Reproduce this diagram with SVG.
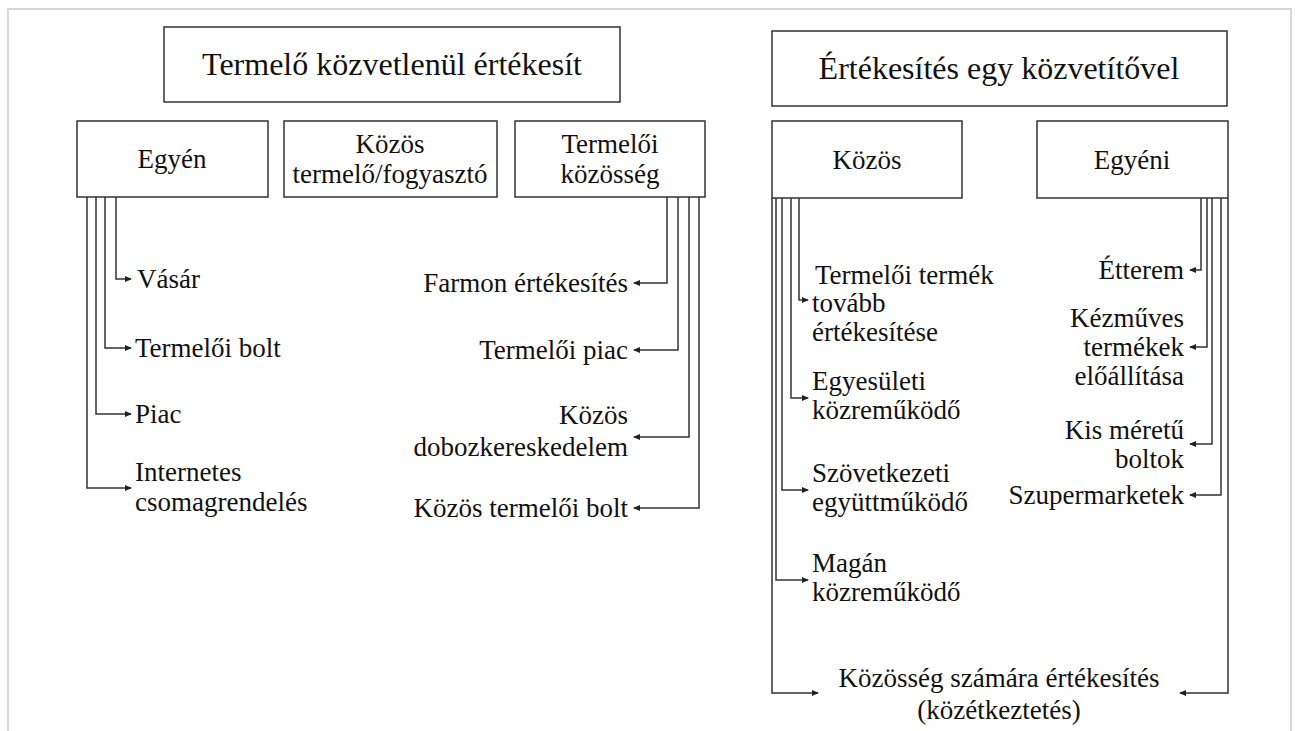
<svg xmlns="http://www.w3.org/2000/svg" width="1295" height="731" viewBox="0 0 1295 731">
<style>
text{font-family:"Liberation Serif","Tinos","DejaVu Serif","Noto Serif",serif;font-size:27px;fill:#111}
.title{font-size:32px}
.box{fill:#fff;stroke:#333;stroke-width:1.5}
.c{fill:none;stroke:#333;stroke-width:1.5}
.frame{stroke:#d6d6d6;stroke-width:2;fill:none}
.m{text-anchor:middle}
.e{text-anchor:end}
</style>
<defs>
<marker id="ah" markerWidth="7" markerHeight="6" refX="6" refY="3" orient="auto" markerUnits="userSpaceOnUse">
<path d="M0,0 L7,3 L0,6 Z" fill="#222"/>
</marker>
</defs>
<rect width="1295" height="731" fill="#fff"/>
<path class="frame" d="M8,731 V9 H1291 V731"/>

<g font-family="Liberation Serif, Tinos, DejaVu Serif, serif">
<g id="title-left"><rect class="box" x="164" y="27" width="456" height="75"/><text class="title m" x="392" y="75">Termelő közvetlenül értékesít</text></g>
<g id="title-right"><rect class="box" x="772" y="31" width="455" height="75"/><text class="title m" x="999" y="79">Értékesítés egy közvetítővel</text></g>

<g id="egyen"><rect class="box" x="77" y="121" width="191" height="76"/><text class="m" x="172" y="168">Egyén</text></g>
<g id="kozos-tf"><rect class="box" x="284" y="121" width="213" height="76"/><text class="m" x="390" y="153">Közös</text><text class="m" x="390" y="183">termelő/fogyasztó</text></g>
<g id="termeloi-kozosseg"><rect class="box" x="515" y="121" width="190" height="76"/><text class="m" x="610" y="153">Termelői</text><text class="m" x="610" y="183">közösség</text></g>
<g id="kozos"><rect class="box" x="772" y="121" width="190" height="77"/><text class="m" x="867" y="169">Közös</text></g>
<g id="egyeni"><rect class="box" x="1037" y="121" width="191" height="77"/><text class="m" x="1132" y="169">Egyéni</text></g>

<g id="connectors">
<path class="c" d="M116,197 V279 H131" marker-end="url(#ah)"/>
<path class="c" d="M105,197 V348 H131" marker-end="url(#ah)"/>
<path class="c" d="M96,197 V414 H131" marker-end="url(#ah)"/>
<path class="c" d="M87,197 V488 H131" marker-end="url(#ah)"/>

<path class="c" d="M667,197 V283 H634" marker-end="url(#ah)"/>
<path class="c" d="M678,197 V350 H634" marker-end="url(#ah)"/>
<path class="c" d="M689,197 V437 H634" marker-end="url(#ah)"/>
<path class="c" d="M699,197 V508 H634" marker-end="url(#ah)"/>

<path class="c" d="M799,198 V300 H808" marker-end="url(#ah)"/>
<path class="c" d="M791,198 V398 H808" marker-end="url(#ah)"/>
<path class="c" d="M782,198 V490 H808" marker-end="url(#ah)"/>
<path class="c" d="M776,198 V580 H808" marker-end="url(#ah)"/>
<path class="c" d="M772,198 V693 H818" marker-end="url(#ah)"/>

<path class="c" d="M1201,198 V270 H1190" marker-end="url(#ah)"/>
<path class="c" d="M1207,198 V347 H1190" marker-end="url(#ah)"/>
<path class="c" d="M1212,198 V444 H1190" marker-end="url(#ah)"/>
<path class="c" d="M1221,198 V495 H1190" marker-end="url(#ah)"/>
<path class="c" d="M1228,198 V693 H1180" marker-end="url(#ah)"/>
</g>

<g id="labels-egyen">
<text x="137" y="288">Vásár</text>
<text x="135" y="357">Termelői bolt</text>
<text x="135" y="423">Piac</text>
<text x="135" y="481">Internetes</text>
<text x="135" y="511">csomagrendelés</text>
</g>
<g id="labels-termeloi-kozosseg">
<text class="e" x="628" y="292">Farmon értékesítés</text>
<text class="e" x="628" y="359">Termelői piac</text>
<text class="e" x="628" y="424">Közös</text>
<text class="e" x="628" y="456">dobozkereskedelem</text>
<text class="e" x="628" y="517">Közös termelői bolt</text>
</g>
<g id="labels-kozos">
<text x="815" y="284">Termelői termék</text>
<text x="812" y="312">tovább</text>
<text x="812" y="341">értékesítése</text>
<text x="812" y="390">Egyesületi</text>
<text x="812" y="419">közreműködő</text>
<text x="812" y="482">Szövetkezeti</text>
<text x="812" y="511">együttműködő</text>
<text x="812" y="572">Magán</text>
<text x="812" y="601">közreműködő</text>
</g>
<g id="labels-egyeni">
<text class="e" x="1184" y="279">Étterem</text>
<text class="e" x="1184" y="327">Kézműves</text>
<text class="e" x="1184" y="356">termékek</text>
<text class="e" x="1184" y="385">előállítása</text>
<text class="e" x="1184" y="439">Kis méretű</text>
<text class="e" x="1184" y="468">boltok</text>
<text class="e" x="1184" y="504">Szupermarketek</text>
</g>
<g id="label-kozosseg">
<text class="m" x="999" y="687">Közösség számára értékesítés</text>
<text class="m" x="999" y="719">(közétkeztetés)</text>
</g>
</g>
</svg>
